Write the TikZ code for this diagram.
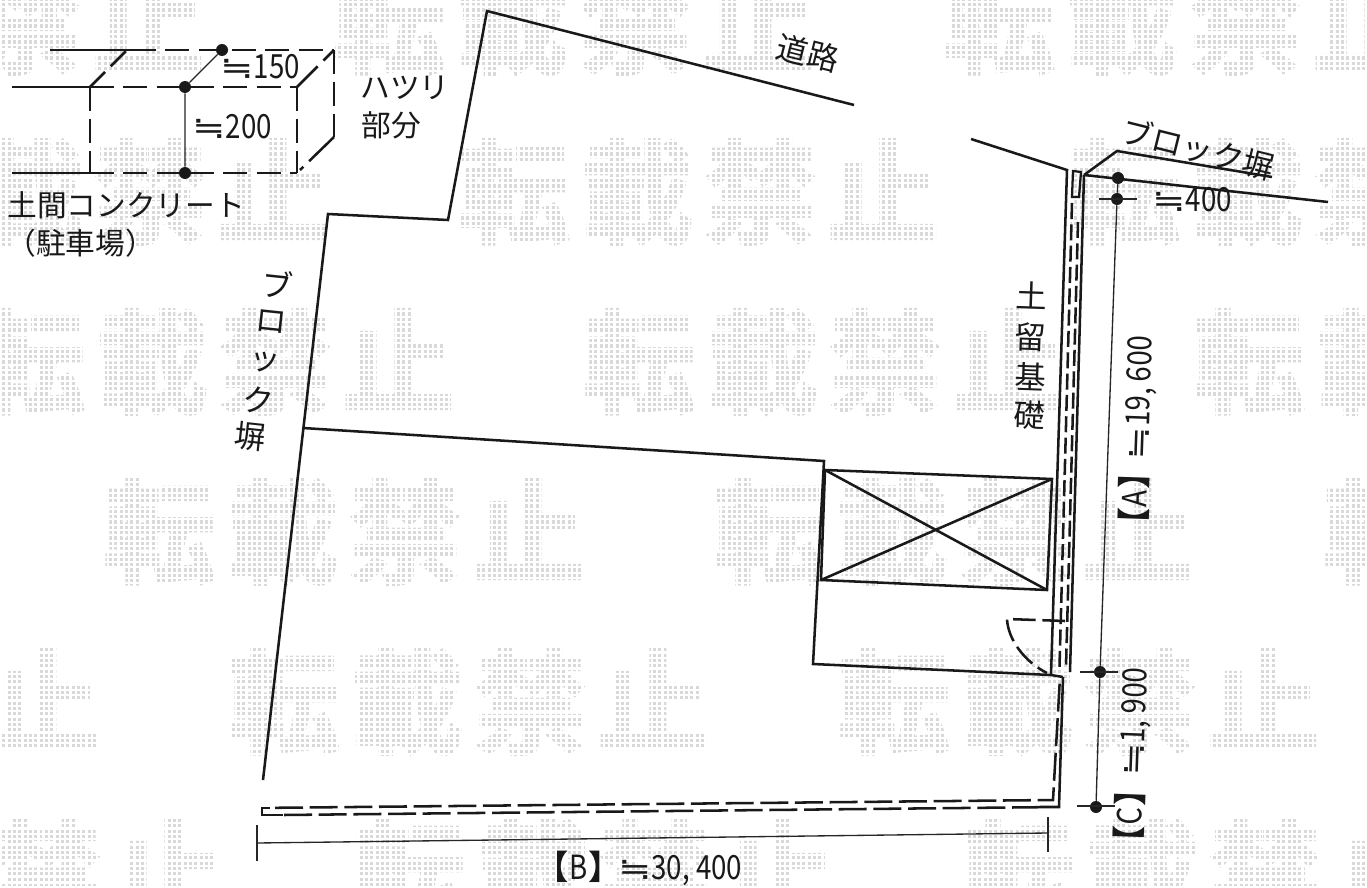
\documentclass[tikz,border=0pt]{standalone}
\usepackage{fontspec}
\setmainfont{Noto Sans CJK JP}
\newfontfamily\wmfont[FakeBold=2.4]{Noto Sans CJK JP Bold}
\newfontfamily\numfont[FakeStretch=0.83]{Noto Sans CJK JP}
\newfontfamily\brfont{Noto Sans CJK JP Bold}
\newfontfamily\sym[FakeStretch=1.3]{DejaVu Sans}
\newcommand{\nearly}{{\sym\fontsize{23pt}{30pt}\selectfont ≒}}
\newcommand{\lb}{{\brfont\kern-.5em【}\kern.02em}
\newcommand{\rb}{\kern.02em{\brfont】\kern-.5em}}
\tikzset{
  wall/.style={line width=1.9pt,black!90,line join=miter},
  thin/.style={line width=1pt,black!85},
  dash1/.style={wall,dash pattern=on 17pt off 5pt},
  dash2/.style={line width=1.9pt,black!90,dash pattern=on 21pt off 5pt},
  dash3/.style={line width=1.9pt,black!90,dash pattern=on 12pt off 4pt},
  dot/.style={circle,fill=black!90,inner sep=0pt,minimum size=9pt,draw=none},
  lab/.style={inner sep=0pt,text=black!90,font=\fontsize{22.3pt}{26pt}\selectfont,align=left},
  labb/.style={lab,font=\fontsize{23.5pt}{26pt}\selectfont},
  num/.style={inner sep=0pt,text=black!90,font=\numfont\fontsize{25pt}{30pt}\selectfont},
  wm/.style={inner sep=0pt,anchor=north west,text=black!15,font=\wmfont\fontsize{84pt}{84pt}\selectfont},
}
\begin{document}
\begin{tikzpicture}[x=0.75pt,y=-0.75pt]
\useasboundingbox (0,0) rectangle (1367,888);
\clip (0,0) rectangle (1367,888);
\fill[white] (0,0) rectangle (1367,888);
% watermark
\foreach \yy/\xx in {-31/335,139/460,309/585,479/105,649/230,819/355}{
  \foreach \k in {-1,0,1,2}{
    \foreach \c/\d in {転/0,載/123,禁/246,止/369}{
      \node[wm] at ({\xx+\k*610+\d-2},\yy) {\c};
    }
  }
}
\foreach \i in {0,...,257}{ \draw[white,line width=1.7pt] ({\i*5.333+1.3},0) -- ({\i*5.333+1.3},888); }
\foreach \i in {0,...,167}{ \draw[white,line width=1.7pt] (0,{\i*5.333+2}) -- (1367,{\i*5.333+2}); }
% site
\draw[wall] (263,780) -- (328,214) -- (448,220) -- (487,11) -- (854,105);
\draw[wall] (971,139) -- (1067,170) -- (1051,675);
\draw[wall] (303,428) -- (824,461) -- (813,664) -- (1051,675) -- (1063,677);
\draw[wall] (825,470) -- (1052,479) -- (1047,590) -- (821,580) -- cycle;
\draw[wall] (825,470) -- (1047,590);
\draw[wall] (821,580) -- (1052,479);
% retaining wall
\draw[wall] (1084,175) -- (1070,672);
\draw[line width=1.7pt,black!90] (1073,171) -- (1081,172) -- (1079,197) -- (1072,197) -- cycle;
\draw[dash3] (1072,203) -- (1059.5,667);
\draw[dash3] (1078,222) -- (1066,667);
\draw[line width=1.9pt,black!90] (1063,677) -- (1059,807) -- (1040,807);
\draw[dash2] (1040,807.2) -- (283,815);
\draw[line width=1.9pt,black!90] (283,815) -- (262,815) -- (262,808) -- (270,808);
\draw[dash2] (275,807.8) -- (1053,800) -- (1060,677);
% door
\draw[dash1] (1065,621) -- (1007,619) .. controls (1008,640) and (1025,662) .. (1047,673);
% block wall
\draw[wall] (1084,175) -- (1117,151) -- (1272,177);
\draw[wall] (1084,175) -- (1328,202);
% dims
\node[dot] (d1) at (1118,178) {};
\node[dot] (d2) at (1117,199) {};
\node[dot] (d3) at (1100,672) {};
\node[dot] (d4) at (1096,807) {};
\draw[thin] (d1) -- (d2) -- (d3) -- (d4);
\draw[thin] (1099,199) -- (1137,199);
\draw[thin] (1080,672) -- (1118,672);
\draw[thin] (1077,806) -- (1115,806);
\coordinate (b1) at (257,843);
\coordinate (b2) at (1048,833);
\draw[thin] (b1) -- (b2);
\draw[thin] (257,825) -- (257,861);
\draw[thin] (1048,817) -- (1048,852);
% inset
\draw[wall] (50,50) -- (132,50);
\draw[wall,dash pattern=on 18pt off 7pt] (132,50) -- (334,50);
\draw[wall] (12,87) -- (90,87);
\draw[wall,dash pattern=on 18pt off 7pt] (90,87) -- (297,87);
\draw[wall] (12,173) -- (90,173);
\draw[wall,dash pattern=on 18pt off 7pt] (90,173) -- (297,173);
\draw[wall,dash pattern=on 18pt off 6pt] (90,87) -- (90,173);
\draw[wall,dash pattern=on 18pt off 6pt] (297,87) -- (297,173);
\draw[wall,dash pattern=on 16pt off 6pt] (90,87) -- (127,50);
\draw[wall,dash pattern=on 22pt off 6pt] (297,87) -- (334,50);
\draw[wall,dash pattern=on 18pt off 6pt] (334,50) -- (334,137);
\draw[wall,dash pattern=on 26pt off 6pt] (334,137) -- (300,170);
\node[dot] (i1) at (222,50) {};
\node[dot] (i2) at (185,87) {};
\node[dot] (i3) at (185,173) {};
\draw[thin] (i1) -- (i2) -- (i3);
% text
\node[num] (t150) at (260,67) {\nearly 150};
\node[num] (t200) at (232,127) {\nearly 200};
\node[lab] (t1) at (405,88) {ハツリ};
\node[lab,anchor=west] (t2) at (361,125) {部分};
\node[lab,anchor=west] (t3) at (7,205) {土間コンクリート};
\node[lab,anchor=west] (t4) at (6,243) {（駐車場）};
\node[labb,rotate=-14] (t5) at (808,53) {道路};
\node[labb,rotate=-14] (t6) at (1198,149) {ブロック塀};
\node[labb,rotate=-6] (l1) at (277,284) {ブ};
\node[labb,rotate=-6] (l2) at (271,322) {ロ};
\node[labb,rotate=-6] (l3) at (265,362) {ッ};
\node[labb,rotate=-6] (l4) at (258,400) {ク};
\node[labb,rotate=-6] (l5) at (250,437) {塀};
\node[labb,rotate=-2] (r1) at (1032,295) {土};
\node[labb,rotate=-2] (r2) at (1031,337) {留};
\node[labb,rotate=-2] (r3) at (1031,377) {基};
\node[labb,rotate=-2] (r4) at (1030,415) {礎};
\node[num] (t400) at (1192,200) {\nearly 400};
\node[num,rotate=88] (tA) at (1138,430) {\lb A\rb\hspace{10pt}\nearly 19, 600};
\node[num,rotate=88] (tC) at (1133,755) {\lb C\rb\hspace{10pt}\nearly 1, 900};
\node[num] (tB) at (647,868) {\lb B\rb\hspace{10pt}\nearly 30, 400};
\end{tikzpicture}
\end{document}
